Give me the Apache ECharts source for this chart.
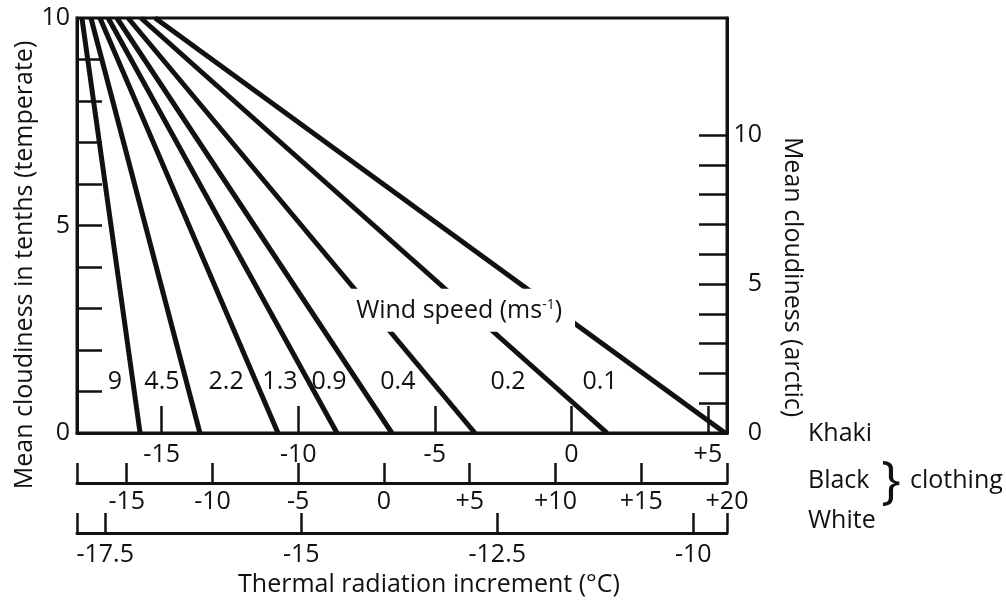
<!DOCTYPE html>
<html>
<head>
<meta charset="utf-8">
<script src="https://cdn.jsdelivr.net/npm/echarts@6/dist/echarts.min.js"></script>
<style>
  html, body { margin: 0; padding: 0; background: #fff; }
  #chart { width: 1006px; height: 606px; }
</style>
</head>
<body>
<div id="chart"></div>
<script>
// wind speed isolines (m/s), as khaki thermal increment at 10/10 and at 0/10 cloud
const windSpeeds = ['9', '4.5', '2.2', '1.3', '0.9', '0.4', '0.2', '0.1']
const khakiAtOvercast = [-17.92, -17.59, -17.26, -16.96, -16.64, -16.23, -15.76, -15.24]
const khakiAtClear = [-15.79, -13.6, -10.74, -8.58, -6.57, -3.53, 1.31, 5.63]
// where the speed numbers sit (khaki units / temperate cloudiness)
const labelKhaki = [-16.71, -14.99, -12.64, -10.67, -8.87, -6.35, -2.32, 1.05]
const labelCloud = [1.23, 1.23, 1.23, 1.23, 1.23, 1.23, 1.23, 1.23]
const windTitleAt = [-4.11, 2.96]

// scales
const khakiTicks = [-15, -10, -5, 0, 5]
const blackTicks = [-15, -10, -5, 0, 5, 10, 15, 20]
const whiteTicks = [-17.5, -15, -12.5, -10]
const temperateTicks = [1, 2, 3, 4, 5, 6, 7, 8, 9]
const arcticTicks = [1, 2, 3, 4, 5, 6, 7, 8, 9, 10]
const cloudLabels = [0, 5, 10]

const khakiRange = [-18.1, 5.7]
const blackRange = [-17.9, 20]
const whiteRange = [-17.86, -9.57]
const temperateRange = [0, 10]
const arcticRange = [0, 13.93]

const FONT = '"Open Sans", Lato, sans-serif'
const INK = '#111'
const FS = 25

const signed = v => (v > 0 ? '+' + v : String(v))

function bottomAxis(range, ticks, offset, tickLen, margin) {
  return {
    type: 'value',
    gridIndex: 0,
    position: 'bottom',
    offset,
    min: range[0],
    max: range[1],
    axisLine: { show: true, onZero: false, lineStyle: { color: INK, width: 3 } },
    axisTick: {
      show: true,
      inside: true,
      length: tickLen,
      customValues: offset ? [range[0], ...ticks, range[1]] : ticks,
      lineStyle: { color: INK, width: 2.5 },
    },
    axisLabel: {
      customValues: ticks,
      formatter: signed,
      margin,
      fontSize: FS,
      fontFamily: FONT,
      color: INK,
    },
    splitLine: { show: false },
  }
}

function sideAxis(range, ticks, position, tickLen, labelOpts) {
  return {
    type: 'value',
    position,
    min: range[0],
    max: range[1],
    axisLine: { show: true, onZero: false, lineStyle: { color: INK, width: 3 } },
    axisTick: {
      show: true,
      inside: true,
      length: tickLen,
      customValues: ticks,
      lineStyle: { color: INK, width: 2.5 },
    },
    axisLabel: Object.assign({
      customValues: cloudLabels,
      fontSize: FS,
      fontFamily: FONT,
      color: INK,
    }, labelOpts),
    splitLine: { show: false },
  }
}

const chart = echarts.init(document.getElementById('chart'), null, { renderer: 'canvas' })

const lineSeries = windSpeeds.map((w, i) => ({
  name: w,
  type: 'line',
  xAxisIndex: 0,
  yAxisIndex: 0,
  symbol: 'none',
  silent: true,
  lineStyle: { color: INK, width: 5 },
  data: [[khakiAtOvercast[i], 10], [khakiAtClear[i], 0]],
}))

const textLabel = {
  show: true,
  position: 'inside',
  fontSize: FS,
  fontFamily: FONT,
  color: INK,
  opacity: 1,
  textBorderWidth: 0,
}

const option = {
  backgroundColor: '#fff',
  animation: false,
  grid: {
    left: 77,
    top: 18,
    right: 279,
    bottom: 173,
    show: true,
    borderColor: INK,
    borderWidth: 3,
  },
  xAxis: [
    bottomAxis(khakiRange, khakiTicks, 0, 27, 9),
    bottomAxis(blackRange, blackTicks, 50, 20, 6),
    bottomAxis(whiteRange, whiteTicks, 100, 20, 9),
  ],
  yAxis: [
    sideAxis(temperateRange, temperateTicks, 'left', 25, { margin: 7 }),
    sideAxis(arcticRange, arcticTicks, 'right', 28, { align: 'right', margin: 35 }),
  ],
  series: [
    ...lineSeries,
    {
      name: 'speed labels',
      type: 'scatter',
      silent: true,
      symbolSize: 0,
      itemStyle: { color: '#fff', opacity: 1 },
      z: 4,
      label: Object.assign({}, textLabel, {
        formatter: p => windSpeeds[p.dataIndex],
      }),
      data: labelKhaki.map((x, i) => [x, labelCloud[i]]),
    },
    {
      name: 'wind title',
      type: 'scatter',
      silent: true,
      symbolSize: 0,
      itemStyle: { color: '#fff', opacity: 1 },
      z: 6,
      label: Object.assign({}, textLabel, {
        formatter: 'Wind speed (ms{sup|-1})',
        backgroundColor: '#fff',
        padding: [9, 13, 8, 13],
        lineHeight: 26,
        rich: {
          sup: { fontSize: 14, lineHeight: 26, verticalAlign: 'top', fontFamily: FONT, color: INK },
        },
      }),
      data: [windTitleAt],
    },
  ],
  graphic: [
    {
      type: 'text', x: 25, y: 265, rotation: Math.PI / 2,
      style: { text: 'Mean cloudiness in tenths (temperate)', fontSize: FS, fontFamily: FONT, fill: INK, align: 'center', verticalAlign: 'middle' },
    },
    {
      type: 'text', x: 792, y: 277, rotation: -Math.PI / 2,
      style: { text: 'Mean cloudiness (arctic)', fontSize: FS, fontFamily: FONT, fill: INK, align: 'center', verticalAlign: 'middle' },
    },
    {
      type: 'text', x: 429, y: 585,
      style: { text: 'Thermal radiation increment (°C)', fontSize: FS, fontFamily: FONT, fill: INK, align: 'center', verticalAlign: 'middle' },
    },
    {
      type: 'text', x: 808, y: 434,
      style: { text: 'Khaki', fontSize: FS, fontFamily: FONT, fill: INK, align: 'left', verticalAlign: 'middle' },
    },
    {
      type: 'text', x: 808, y: 481,
      style: { text: 'Black', fontSize: FS, fontFamily: FONT, fill: INK, align: 'left', verticalAlign: 'middle' },
    },
    {
      type: 'text', x: 808, y: 521,
      style: { text: 'White', fontSize: FS, fontFamily: FONT, fill: INK, align: 'left', verticalAlign: 'middle' },
    },
    {
      type: 'text', x: 891, y: 483,
      style: { text: '}', fontSize: 52, fontFamily: FONT, fill: INK, align: 'center', verticalAlign: 'middle' },
    },
    {
      type: 'text', x: 910, y: 481,
      style: { text: 'clothing', fontSize: FS, fontFamily: FONT, fill: INK, align: 'left', verticalAlign: 'middle' },
    },
  ],
}

chart.setOption(option)
</script>
</body>
</html>
